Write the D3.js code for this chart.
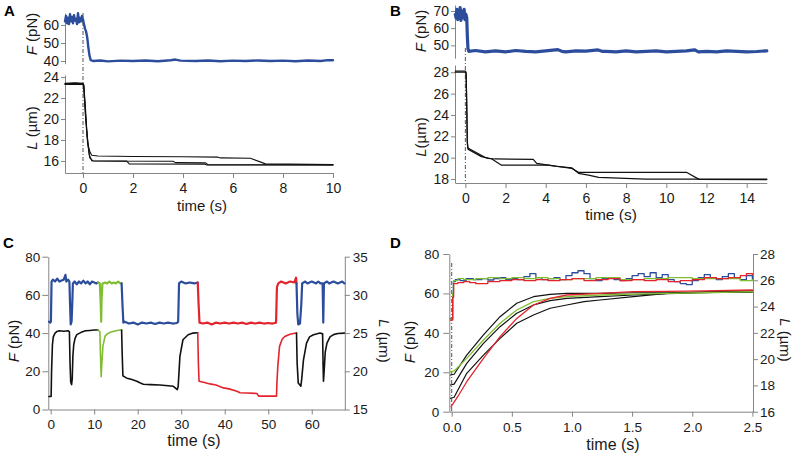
<!DOCTYPE html>
<html><head><meta charset="utf-8">
<script src="https://cdn.jsdelivr.net/npm/d3@7"></script>
<style>
body{margin:0;background:#fff;}
svg{font-family:"Liberation Sans",Arial,Helvetica,sans-serif;}
</style></head><body>
<svg id="fig" width="800" height="459"></svg>
<script>
// ---------------- DATA ----------------
// Panel A: force (pN) vs time (s)
const aForce = [[-0.72,62],[-0.68,65],[-0.64,61],[-0.6,64],[-0.56,60.5],[-0.52,66],[-0.48,62],[-0.44,64.5],[-0.4,61],[-0.36,65.5],[-0.32,62.5],[-0.28,63.5],[-0.24,60.5],[-0.2,66.5],[-0.16,61.5],[-0.12,64],[-0.08,62],[-0.04,65],[0.0,63],
 [0.03,61],[0.08,58],[0.12,56.5],[0.17,53],[0.21,48],[0.26,43],[0.31,40.5],[0.4,40],[0.7,40.3],[1,39.8],[1.5,40.2],[2,40],[2.5,40.3],[3,39.9],[3.5,40.4],[3.7,40.8],[3.9,40.2],[4.5,40],[5,40.3],[5.5,39.9],[6,40.2],[6.5,40],[7,40.3],[7.5,40],[8,40.2],[8.5,39.9],[9,40.3],[9.5,40],[9.8,40.5],[10,40.4]];
// Panel A: contour length (µm), three traces
const aLen1 = [[-0.72,23.4],[-0.3,23.45],[0,23.4],[0.03,23.3],[0.1,21],[0.15,19],[0.2,17.6],[0.27,16.9],[0.35,16.55],[0.6,16.47],[2,16.43],[4,16.4],[5.4,16.36],[5.5,16.29],[6.7,16.26],[7.3,15.72],[10,15.65]];
const aLen2 = [[-0.72,23.35],[-0.35,23.4],[0,23.35],[0.03,23.2],[0.1,20.5],[0.17,18.3],[0.25,16.6],[0.35,16.02],[1.75,15.98],[1.85,15.72],[4.85,15.7],[4.95,15.62],[10,15.62]];
const aLen3 = [[-0.72,23.3],[0,23.3],[0.03,23.1],[0.1,20.2],[0.18,17.8],[0.27,16.3],[0.4,16.0],[3.6,15.97],[3.7,15.84],[4.9,15.82],[5.0,15.64],[10,15.63]];

// Panel B
const bForce = [[-0.5,68],[-0.46,66],[-0.42,71],[-0.38,65],[-0.34,69],[-0.3,67],[-0.26,72],[-0.22,64.5],[-0.18,70],[-0.14,66],[-0.1,69],[-0.06,71],[-0.02,65],[0.03,68],
 [0.07,66],[0.1,55],[0.13,48],[0.17,46.5],[0.5,47],[1,46.2],[1.5,46.8],[2,46.2],[2.5,47],[3,46.5],[3.5,46.2],[4,46.8],[4.6,47.5],[4.8,46.5],[5,46.2],[5.5,46.8],[6,46.6],[6.6,47.3],[6.8,46.5],[7,46.5],[7.5,46.2],[8,46.8],[8.5,46.2],[9,46.5],[9.5,46.8],[10,46.2],[10.5,46.5],[11,46.8],[11.4,47.4],[11.6,46.2],[12,46.5],[12.5,46.2],[13,46.8],[13.5,46.5],[14,46.2],[14.5,46.4],[15,46.8]];
const bLen1 = [[-0.5,28.1],[0,28.1],[0.04,28.0],[0.07,25],[0.1,21.5],[0.13,20.9],[0.63,20.4],[0.97,20.03],[1.13,19.94],[1.47,19.88],[3.38,19.85],[3.55,19.47],[4.13,19.31],[5.3,19.0],[5.63,18.63],[11.0,18.63],[11.63,17.97],[15,17.95]];
const bLen2 = [[-0.5,28.0],[0,28.0],[0.04,27.8],[0.07,24.5],[0.1,21.3],[0.13,20.8],[0.8,20.1],[1.3,19.9],[1.8,19.3],[4.13,19.3],[4.5,19.2],[5.3,19.05],[5.63,18.53],[6.13,18.37],[6.63,18.16],[8.97,18.0],[15,18.0]];

// Panel C: force segments (pN)
const cForceBlue1 = [[-0.4,46],[-0.1,45.5],[0.05,46],[0.2,67],[0.5,68],[1,67],[1.5,68.5],[2,67],[2.5,67.5],[3,68],[3.4,70.5],[3.6,67],[4,68],[4.3,67],[4.45,55],[4.6,44.5],[4.8,46],[4.95,55],[5.1,66],[5.5,67],[6,65.5],[6.5,67],[7,66],[7.5,67.5],[8,66],[8.5,67],[9,65.5],[9.5,67],[10,66.5],[10.5,66],[10.9,66.5]];
const cForceGreen = [[10.9,66.5],[11.3,66],[11.5,55],[11.6,46],[11.7,58],[11.9,66],[12.5,66.5],[13,66],[13.5,67],[14,66],[14.5,66.5],[15,66],[15.5,67],[16,66],[16.3,66]];
const cForceBlue2 = [[16.3,66],[16.5,55],[16.7,45.5],[17,46],[18,45],[19,45.5],[20,44.5],[21,45.5],[22,45],[23,45.5],[24,44.8],[25,45.5],[26,45],[27,45.5],[28,45],[29,45.3],[29.3,46],[29.5,66],[30,67],[31,66],[32,66.5],[33,66],[33.8,66.5]];
const cForceRed = [[33.8,66.5],[34.0,55],[34.2,45.5],[35,45],[36,45.5],[37,44.5],[38,45.5],[39,45],[40,45.5],[41,45],[42,45.5],[43,45],[44,45.5],[45,44.8],[46,45.5],[47,45],[48,45.5],[49,45],[50,45.3],[51,45],[51.8,45.5],[52,64],[52.3,66],[53,67],[54,66],[55,67],[56,66.5],[56.4,69],[56.5,66]];
const cForceBlue3 = [[56.5,66],[56.7,50],[56.9,44.5],[57.3,45],[57.6,55],[57.8,66],[58.5,67],[59,66],[60,67],[61,66],[61.5,67],[62,66],[62.5,66],[62.65,45.5],[62.8,66],[63.5,67],[64,66],[65,67],[66,66],[67,67],[67.5,66]];
// Panel C: length segments (µm)
const cLenBlack1 = [[-0.4,16.7],[0.1,16.7],[0.2,20],[0.4,23.5],[0.6,24.5],[1,25],[1.4,25.2],[2,25.3],[3,25.25],[4,25.3],[4.3,25.2],[4.45,21],[4.6,18.6],[4.8,18.26],[4.95,19],[5.1,22],[5.3,23.5],[5.6,24.3],[6,24.8],[7,25.1],[8,25.3],[9,25.35],[10,25.4],[10.9,25.4]];
const cLenGreen = [[10.9,25.4],[11.3,25.2],[11.45,22],[11.6,19.3],[11.75,21],[12,23.3],[12.5,24.6],[13,24.9],[13.7,25.1],[15,25.3],[15.9,25.4],[16.3,25.4]];
const cLenBlack2 = [[16.3,25.4],[16.45,22],[16.6,19.4],[17.5,19.1],[18.5,18.95],[19.8,18.7],[20.5,18.5],[21.3,18.3],[23,18.25],[25.1,18.2],[27,18.1],[28.2,18.04],[29.1,17.6],[29.3,18],[29.7,21.95],[30.4,24.13],[31.6,24.78],[32.7,25.0],[33.8,25.05]];
const cLenRed = [[33.8,25.05],[33.95,21],[34.1,18.7],[35.1,18.56],[36.6,18.35],[38,18.2],[39.7,17.83],[41,17.7],[42.8,17.4],[43.5,17.2],[45,17.15],[47.4,17.1],[47.8,16.75],[51.9,16.75],[52.0,18.5],[52.2,20.65],[52.6,23.26],[53.2,24.2],[53.8,24.56],[55,24.85],[56.1,24.98],[56.5,25.0]];
const cLenBlack3 = [[56.5,25.0],[56.65,21],[56.9,18.48],[57.5,18.04],[57.7,19],[58.1,21.5],[58.8,23.7],[59.5,24.5],[60.4,24.78],[61.9,25.0],[62.5,24.9],[62.6,21],[62.7,18.7],[62.85,20],[63.1,22.5],[63.5,23.7],[64.2,24.5],[65,24.8],[66,24.95],[67.5,25.0]];

// Panel D: force (pN)
const dForceBlue = [[-0.012,47.3],[0.004,47.3],[0.008,58],[0.014,66],[0.03,67],[0.07,66.5],[0.12,67.5],[0.18,67],[0.25,67.5],[0.3,66.8],[0.35,67.5],[0.4,68],[0.45,67],[0.5,67.5],[0.55,67],[0.6,68.5],[0.65,70],[0.7,68],[0.75,67],[0.8,67.5],[0.85,68],[0.9,67],[0.95,69],[1.0,70.5],[1.05,71.5],[1.1,70],[1.15,67.5],[1.2,66.5],[1.25,67.5],[1.3,68],[1.35,67],[1.4,66.5],[1.45,67.5],[1.5,69],[1.55,70],[1.6,68.5],[1.65,70.5],[1.7,68],[1.75,69.5],[1.8,67],[1.85,66],[1.9,65],[1.95,64.5],[2.0,66.5],[2.05,68],[2.1,69.5],[2.15,68],[2.2,67],[2.25,68.5],[2.3,70],[2.35,68],[2.4,67],[2.45,69],[2.5,67]];
const dForceGreen = [[-0.012,47],[0.004,47],[0.008,60],[0.015,66.5],[0.05,67.5],[0.1,67],[0.2,67.5],[0.3,68],[0.4,67.5],[0.5,68],[0.6,67.5],[0.7,68],[0.8,67.5],[0.9,67],[1.0,67.5],[1.2,68],[1.4,67],[1.6,67.5],[1.8,68],[2.0,67.5],[2.2,67.5],[2.4,66.5],[2.5,67]];
const dForceRed = [[-0.012,46.5],[0.004,46.5],[0.008,58],[0.016,65],[0.05,65.5],[0.1,66],[0.15,65.5],[0.2,65],[0.3,66],[0.4,66.5],[0.5,67],[0.6,66.5],[0.7,67],[0.8,66.5],[0.9,67],[1.0,67.5],[1.1,66.5],[1.2,67],[1.3,67.5],[1.4,66.5],[1.5,67],[1.6,66.5],[1.7,67],[1.8,66],[1.9,66.5],[2.0,67],[2.1,68],[2.2,67.5],[2.3,68],[2.4,69],[2.45,70],[2.5,69.5]];
// Panel D: length (µm)
const dLenGreen = [[-0.01,19.04],[0.02,19.1],[0.125,20.06],[0.264,21.46],[0.402,22.73],[0.541,23.74],[0.68,24.37],[0.818,24.63],[0.957,24.76],[1.234,24.88],[1.51,24.95],[1.79,25.0],[2.1,25.05],[2.5,25.13]];
const dLenBlack1 = [[-0.01,18.79],[0.02,18.85],[0.125,20.31],[0.264,21.84],[0.402,23.23],[0.541,24.25],[0.68,24.75],[0.818,24.93],[0.957,25.0],[1.234,25.0],[1.51,25.05],[1.79,25.05],[2.1,25.1],[2.5,25.1]];
const dLenBlack2 = [[-0.01,18.03],[0.02,18.1],[0.125,19.68],[0.264,21.2],[0.402,22.47],[0.541,23.49],[0.68,24.12],[0.818,24.45],[0.957,24.63],[1.234,24.76],[1.51,24.88],[1.79,24.98],[2.1,25.05],[2.5,25.15]];
const dLenBlack3 = [[-0.01,17.02],[0.02,17.1],[0.125,18.92],[0.264,20.31],[0.402,21.58],[0.541,22.73],[0.68,23.36],[0.818,23.87],[0.957,24.12],[1.1,24.37],[1.234,24.5],[1.51,24.76],[1.79,25.0],[2.1,25.1],[2.5,25.2]];
const dLenRed = [[-0.005,16.38],[0.05,17.14],[0.125,18.28],[0.264,20.06],[0.402,21.71],[0.541,23.1],[0.68,24.12],[0.818,24.63],[0.957,24.88],[1.234,25.0],[1.51,25.13],[1.79,25.15],[2.1,25.2],[2.5,25.26]];

// Tick values
const aTimeTicks = [0,2,4,6,8,10], aForceTicks = [40,50,60], aLenTicks = [16,18,20,22,24];
const bTimeTicks = [0,2,4,6,8,10,12,14], bForceTicks = [50,60,70], bLenTicks = [18,20,22,24,26,28];
const cTimeTicks = [0,10,20,30,40,50,60], cForceTicks = [0,20,40,60,80], cLenTicks = [15,20,25,30,35];
const dTimeTicks = [0,0.5,1,1.5,2,2.5], dForceTicks = [0,20,40,60,80], dLenTicks = [16,18,20,22,24,26,28];

// ---------------- DRAWING ----------------
const AX = '#858585', TXT = '#1a1a1a';
const BLUE = '#2c4c9c', GREEN = '#80bd33', RED = '#e3242e', BLACK = '#111';
const svg = d3.select('#fig');

function styleAxis(g, fs){
  g.attr('font-size', null).attr('font-family', null);
  g.select('.domain').attr('stroke', AX);
  g.selectAll('.tick line').attr('stroke', AX);
  g.selectAll('.tick text').attr('fill', TXT).style('font-size', fs + 'px');
}
function addAxis(axis, tx, ty, fs){
  const g = svg.append('g').attr('transform', `translate(${tx},${ty})`);
  g.call(axis); styleAxis(g, fs); return g;
}
function trace(data, sx, sy, color, w, curve){
  svg.append('path').datum(data)
    .attr('d', d3.line().x(d => sx(d[0])).y(d => sy(d[1])).curve(curve || d3.curveLinear))
    .attr('fill', 'none').attr('stroke', color).attr('stroke-width', w)
    .attr('stroke-linejoin', 'round').attr('stroke-linecap', 'round');
}
function vline(x, y1, y2){
  svg.append('line').attr('x1', x).attr('x2', x).attr('y1', y1).attr('y2', y2)
    .attr('stroke', '#555').attr('stroke-width', 1).attr('stroke-dasharray', '4,2,1,2');
}
function label(x, y, italic, rest, fs, mode){
  let tr;
  if (mode === 'left') tr = `translate(${x},${y}) rotate(-90)`;
  else if (mode === 'right') tr = `translate(${x},${y}) rotate(90)`;
  else tr = `translate(${x},${y})`;
  const t = svg.append('text').attr('transform', tr).attr('text-anchor', 'middle')
    .attr('dominant-baseline', mode ? 'central' : 'auto')
    .attr('fill', TXT).style('font-size', fs + 'px');
  if (italic) t.append('tspan').attr('font-style', 'italic').text(italic);
  t.append('tspan').text(rest);
}
function panelLetter(x, y, s){
  svg.append('text').attr('x', x).attr('y', y).text(s)
    .attr('font-weight', 'bold').attr('fill', '#000').style('font-size', '15px');
}

// ---- Panel A ----
const xA = d3.scaleLinear([-0.72, 10], [65, 333]);
const fA = d3.scaleLinear([38.5, 66.5], [63.7, 13.3]);
const lA = d3.scaleLinear([14.85, 24.2], [173, 75]);
addAxis(d3.axisLeft(fA).tickValues(aForceTicks).tickSize(4).tickPadding(2).tickSizeOuter(0), 65, 0, 14);
addAxis(d3.axisLeft(lA).tickValues(aLenTicks).tickSize(4).tickPadding(2).tickSizeOuter(0), 65, 0, 14);
addAxis(d3.axisBottom(xA).tickValues(aTimeTicks).tickSize(5).tickPadding(5).tickSizeOuter(0), 0, 173, 14);
vline(xA(0), 13, 173);
trace(aLen3, xA, lA, BLACK, 1.1);
trace(aLen2, xA, lA, BLACK, 1.1);
trace(aLen1, xA, lA, BLACK, 1.1);
trace(aForce, xA, fA, BLUE, 2.4);
label(31, 34, 'F', ' (pN)', 15, 'left');
label(31, 128, 'L', ' (µm)', 15, 'left');
label(202, 211, '', 'time (s)', 15);
panelLetter(4, 16, 'A');

// ---- Panel B ----
const xB = d3.scaleLinear([-0.5, 15], [455.3, 766.8]);
const fB = d3.scaleLinear([42.5, 73.5], [58.2, 5]);
const lB = d3.scaleLinear([17.63, 28.68], [183, 65]);
addAxis(d3.axisLeft(fB).tickValues(bForceTicks).tickSize(4).tickPadding(2).tickSizeOuter(0), 455, 0, 14);
addAxis(d3.axisLeft(lB).tickValues(bLenTicks).tickSize(4).tickPadding(2).tickSizeOuter(0), 455, 0, 14);
addAxis(d3.axisBottom(xB).tickValues(bTimeTicks).tickSize(5).tickPadding(5).tickSizeOuter(0), 0, 183, 14);
vline(xB(0), 48, 183);
trace(bLen2, xB, lB, BLACK, 1.2);
trace(bLen1, xB, lB, BLACK, 1.2);
trace(bForce, xB, fB, BLUE, 3.2);
label(420, 31, 'F', ' (pN)', 15, 'left');
label(420, 137, 'L', '(µm)', 15, 'left');
label(611, 220, '', 'time (s)', 15.5);
panelLetter(390, 16, 'B');

// ---- Panel C ----
const xC = d3.scaleLinear([-0.55, 67.6], [48.3, 344.8]);
const fC = d3.scaleLinear([0, 80], [409.5, 256.7]);
const lC = d3.scaleLinear([15, 35], [409.5, 256.7]);
addAxis(d3.axisLeft(fC).tickValues(cForceTicks).tickSize(6).tickPadding(2).tickSizeOuter(0), 48.3, 0, 13.5);
addAxis(d3.axisRight(lC).tickValues(cLenTicks).tickSize(5).tickPadding(3).tickSizeOuter(0), 344.8, 0, 13.5);
addAxis(d3.axisBottom(xC).tickValues(cTimeTicks).tickSize(5).tickPadding(5).tickSizeOuter(0), 0, 409.5, 13.5);
[[cForceBlue1, BLUE],[cForceGreen, GREEN],[cForceBlue2, BLUE],[cForceRed, RED],[cForceBlue3, BLUE]]
  .forEach(([d, c]) => trace(d, xC, fC, c, 2.2));
[[cLenBlack1, BLACK],[cLenGreen, GREEN],[cLenBlack2, BLACK],[cLenRed, RED],[cLenBlack3, BLACK]]
  .forEach(([d, c]) => trace(d, xC, lC, c, 1.6));
label(13, 341, 'F', ' (pN)', 15, 'left');
label(385, 341, 'L', ' (µm)', 15, 'right');
label(194, 446, '', 'time (s)', 16);
panelLetter(3, 248, 'C');

// ---- Panel D ----
const xD = d3.scaleLinear([-0.02, 2.505], [449.3, 753]);
const fD = d3.scaleLinear([0, 80], [411.7, 254]);
const lD = d3.scaleLinear([16, 28], [411.7, 254]);
addAxis(d3.axisLeft(fD).tickValues(dForceTicks).tickSize(6).tickPadding(4).tickSizeOuter(0), 449.3, 0, 13.5);
addAxis(d3.axisRight(lD).tickValues(dLenTicks).tickSize(5).tickPadding(2).tickSizeOuter(0), 753, 0, 13.5);
addAxis(d3.axisBottom(xD).tickValues(dTimeTicks).tickFormat(d3.format('.1f')).tickSize(5).tickPadding(6).tickSizeOuter(0), 0, 411.7, 13.5);
vline(xD(0), 263, 411.7);
trace(dLenBlack3, xD, lD, BLACK, 1.2);
trace(dLenBlack2, xD, lD, BLACK, 1.2);
trace(dLenBlack1, xD, lD, BLACK, 1.2);
trace(dLenGreen, xD, lD, GREEN, 1.3);
trace(dLenRed, xD, lD, RED, 1.3);
trace(dForceBlue, xD, fD, BLUE, 1.3, d3.curveStepAfter);
trace(dForceGreen, xD, fD, GREEN, 1.3, d3.curveStepAfter);
trace(dForceRed, xD, fD, RED, 1.3, d3.curveStepAfter);
label(409, 342, 'F', ' (pN)', 15, 'left');
label(786, 340, 'L', ' (µm)', 15, 'right');
label(613, 450, '', 'time (s)', 16);
panelLetter(390, 248, 'D');
</script>
</body></html>
